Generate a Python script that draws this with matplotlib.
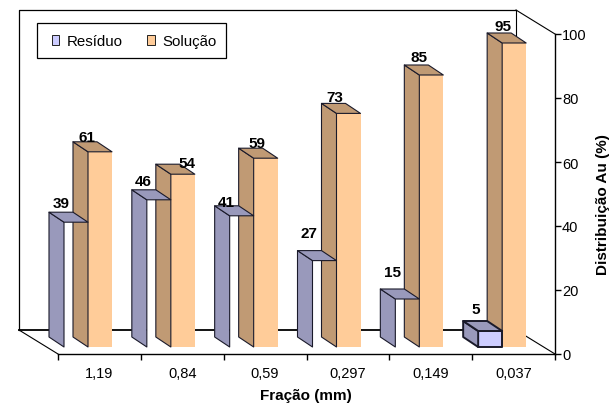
#!/usr/bin/env python3
import numpy as np
import matplotlib
matplotlib.use('Agg')
import matplotlib.pyplot as plt
from matplotlib.patches import Patch, Polygon, Rectangle

plt.rcParams['font.family'] = ['Liberation Sans', 'DejaVu Sans']
plt.rcParams['font.size'] = 10

fractions = ['1,19', '0,84', '0,59', '0,297', '0,149', '0,037']
residuo = [39, 46, 41, 27, 15, 5]
solucao = [61, 54, 59, 73, 85, 95]
y_ticks = [0, 20, 40, 60, 80, 100]

# hand-placed value labels: px offset of the label from the bar's back-left top corner
res_label_dx = [-3, -4, -3, -3.5, -3, -2]
res_label_dy = [10, 9.3, 5, 19, 18, 13]
sol_label_dx = [-1.3, 16, 3.3, -1.5, -0.6, 0.5]
sol_label_dy = [5.8, 1.7, 5.7, 7, 9, 8]

# fake 3D: px per unit, so the oblique offsets stay in data units
fig_w, fig_h = 613, 414
ax_left, ax_right, ax_top, ax_bottom = 58, 555, 35, 355
px_x = (ax_right - ax_left) / len(fractions)
px_y = (ax_bottom - ax_top) / 100

wall_dx, wall_dy = -39 / px_x, 24 / px_y
bar_dx, bar_dy = -15 / px_x, 10 / px_y
floor_y = 7 / px_y
bar_w = 24 / px_x
res_x = 6 / px_x
sol_x = 30 / px_x

side_res = '#9999BB'
side_sol = '#C09A74'
front_sol = '#FFCC99'
front_res_low = '#CCCCFF'

fig = plt.figure(figsize=(fig_w / 100, fig_h / 100), dpi=100)
ax = fig.add_axes([ax_left / fig_w, 1 - ax_bottom / fig_h,
                   (ax_right - ax_left) / fig_w, (ax_bottom - ax_top) / fig_h])
ax.set_xlim(0, len(fractions))
ax.set_ylim(0, 100)
ax.patch.set_visible(False)


def wall_line(xs, ys, lw=1.0):
    ax.plot(xs, ys, color='black', lw=lw, clip_on=False, zorder=1,
            solid_capstyle='projecting')


# back wall and floor edges
n = len(fractions)
wall_line([wall_dx, wall_dx, n + wall_dx], [wall_dy, 100 + wall_dy, 100 + wall_dy], lw=0.9)
wall_line([wall_dx, n + wall_dx], [wall_dy, wall_dy], lw=1.3)
wall_line([n + wall_dx, n + wall_dx], [wall_dy, 100 + wall_dy], lw=0.8)
wall_line([n + wall_dx, n], [100 + wall_dy, 100], lw=0.8)
wall_line([wall_dx, 0], [wall_dy, 0], lw=0.8)
wall_line([n + wall_dx, n], [wall_dy, 0], lw=0.8)


def draw_bar(x, value, side, front, label_dx, label_dy, z_body, z_front,
             lw=0.8, edge_front=False):
    y0 = floor_y
    y1 = floor_y + value
    faces = [
        ([(x, y0), (x + bar_w, y0), (x + bar_w, y1), (x, y1)], front, edge_front, z_front),
        ([(x, y0), (x + bar_dx, y0 + bar_dy), (x + bar_dx, y1 + bar_dy), (x, y1)], side, True, z_body),
        ([(x, y1), (x + bar_dx, y1 + bar_dy), (x + bar_w + bar_dx, y1 + bar_dy), (x + bar_w, y1)], side, True, z_body),
    ]
    for pts, color, edged, z in faces:
        ax.add_patch(Polygon(pts, closed=True, facecolor=color,
                             edgecolor='#1a1a2a' if edged else 'none',
                             linewidth=lw if edged else 0,
                             clip_on=False, zorder=z, joinstyle='round'))
    # baseline sits 5 px under the middle of the digits
    ax.text(x + label_dx / px_x, y1 + bar_dy + (label_dy - 5) / px_y, str(value),
            ha='center', va='baseline', fontweight='bold', fontsize=11,
            zorder=4, clip_on=False)


for i in range(n):
    # residue tops lie over the neighbouring side face; only the smallest
    # residue bar has a filled front and it sits in front of everything
    low = residuo[i] < 10
    draw_bar(i + res_x, residuo[i], side_res, front_res_low if low else 'white',
             res_label_dx[i], res_label_dy[i], 3, 3 if low else 2,
             lw=1.4 if low else 0.8, edge_front=low)
    draw_bar(i + sol_x, solucao[i], side_sol, front_sol, sol_label_dx[i], sol_label_dy[i], 2.5, 2.5)

for name in ['top', 'left']:
    ax.spines[name].set_visible(False)
ax.spines['bottom'].set_linewidth(1.0)
ax.spines['right'].set_linewidth(1.0)
ax.set_zorder(1)

ax.yaxis.tick_right()
ax.set_yticks(y_ticks)
ax.tick_params(axis='y', length=4, width=1.0, pad=1, labelsize=10.5, colors='black')
ax.set_xticks(np.arange(n + 1))
ax.set_xticklabels([])
ax.set_xticks(np.arange(n) + 0.5, minor=True)
ax.set_xticklabels(fractions, minor=True)
ax.tick_params(axis='x', which='major', length=4, width=1.0)
ax.tick_params(axis='x', which='minor', length=0, pad=9, labelsize=10.5)

fig.text(306 / fig_w, 1 - 396.5 / fig_h, 'Fração (mm)', ha='center', va='center',
         fontweight='bold', fontsize=11)
fig.text(603 / fig_w, 1 - 204.5 / fig_h, 'Distribuição Au (%)', ha='center', va='center',
         rotation=90, fontweight='bold', fontsize=11)

# legend frame is drawn apart: its padding differs across and down
ax.add_patch(Rectangle((37 / fig_w, 1 - 59 / fig_h), 189 / fig_w, 35 / fig_h,
                       transform=fig.transFigure, facecolor='white', edgecolor='black',
                       linewidth=0.9, clip_on=False, zorder=5))
handles = [Patch(facecolor=front_res_low, edgecolor='#222222', linewidth=0.7, label='Resíduo'),
           Patch(facecolor=front_sol, edgecolor='#222222', linewidth=0.7, label='Solução')]
leg = ax.legend(handles=handles, ncol=2, loc='center left',
                bbox_to_anchor=(52 / fig_w, 1 - 42 / fig_h), bbox_transform=fig.transFigure,
                frameon=False, fontsize=10.8,
                handlelength=0.47, handleheight=0.62, handletextpad=0.53,
                columnspacing=1.63, borderpad=0, borderaxespad=0)
leg.set_zorder(6)

fig.savefig('out.png', dpi=100)
